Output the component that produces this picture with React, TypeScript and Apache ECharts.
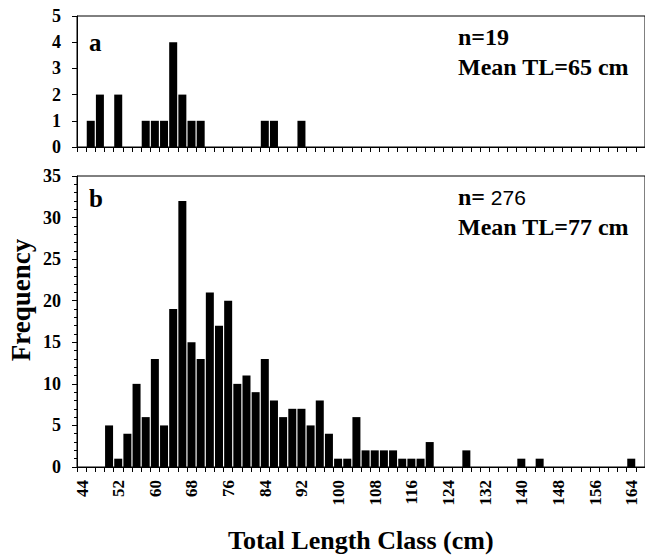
import React, { useEffect, useRef } from "react";
import * as echarts from "echarts";

// Panel a: bin start (cm) and frequency
const binsA = [46, 48, 52, 58, 60, 62, 64, 66, 68, 70, 84, 86, 92];
const countsA = [1, 2, 2, 1, 1, 1, 4, 2, 1, 1, 1, 1, 1];

// Panel b: bin start (cm) and frequency
const binsB = [50, 52, 54, 56, 58, 60, 62, 64, 66, 68, 70, 72, 74, 76, 78, 80, 82, 84, 86, 88, 90, 92, 94, 96, 98, 100, 102, 104, 106, 108, 110, 112, 114, 116, 118, 120, 128, 140, 144, 164];
const countsB = [5, 1, 4, 10, 6, 13, 5, 19, 32, 15, 13, 21, 17, 20, 10, 11, 9, 13, 8, 6, 7, 7, 5, 8, 4, 1, 1, 6, 2, 2, 2, 2, 1, 1, 1, 3, 2, 1, 1, 1];

const xTickLabels = [44, 52, 60, 68, 76, 84, 92, 100, 108, 116, 124, 132, 140, 148, 156, 164];
const yTicksA = [0, 1, 2, 3, 4, 5];
const yTicksB = [0, 5, 10, 15, 20, 25, 30, 35];

const BIN = 2;
const SERIF = "Liberation Serif";
const SANS = "Liberation Sans";

export default function App() {
  const ref = useRef<HTMLDivElement>(null);
  useEffect(() => {
    if (!ref.current) return;
    const chart = echarts.init(ref.current, null, { renderer: "svg" });
    const xAxisBase = (gridIndex: number, showLabels: boolean) => ({
      type: "value",
      gridIndex,
      min: 44,
      max: 168,
      interval: BIN,
      axisLine: { show: true, lineStyle: { color: "#000", width: 1 } },
      axisTick: { show: true, inside: false, length: 5, lineStyle: { color: "#000" } },
      splitLine: { show: false },
      axisLabel: {
        show: showLabels,
        rotate: 90,
        margin: 13,
        color: "#000",
        fontFamily: SERIF,
        fontWeight: "bold",
        fontSize: 17,
        verticalAlign: "top",
        lineHeight: 10,
        formatter: (v: number) => (xTickLabels.includes(v) ? String(v) : ""),
      },
    });
    const yLabel = {
      color: "#000",
      fontFamily: SERIF,
      fontWeight: "bold",
      fontSize: 18,
      margin: 16,
    };
    const txt = (text: string, left: number, top: number, size: number) => ({
      type: "text",
      left,
      top,
      style: { text, fontFamily: SERIF, fontWeight: "bold", fontSize: size, fill: "#000" },
    });
    chart.setOption({
      animation: false,
      backgroundColor: "#fff",
      grid: [
        { left: 77, top: 16, width: 572, height: 131, show: true, borderColor: "#000", borderWidth: 1, backgroundColor: "transparent" },
        { left: 77, top: 176, width: 572, height: 291, show: true, borderColor: "#000", borderWidth: 1, backgroundColor: "transparent" },
      ],
      xAxis: [xAxisBase(0, false), xAxisBase(1, true)],
      yAxis: [
        {
          type: "value",
          gridIndex: 0,
          min: yTicksA[0],
          max: yTicksA[yTicksA.length - 1],
          interval: 1,
          axisLine: { show: true, lineStyle: { color: "#000" } },
          axisTick: { show: true, length: 5, lineStyle: { color: "#000" } },
          splitLine: { show: false },
          axisLabel: yLabel,
        },
        {
          type: "value",
          gridIndex: 1,
          min: yTicksB[0],
          max: yTicksB[yTicksB.length - 1],
          interval: 5,
          axisLine: { show: true, lineStyle: { color: "#000" } },
          axisTick: { show: true, length: 5, lineStyle: { color: "#000" } },
          minorTick: { show: true, splitNumber: 5, length: 3, lineStyle: { color: "#000" } },
          splitLine: { show: false },
          axisLabel: yLabel,
        },
      ],
      series: [
        {
          type: "bar",
          xAxisIndex: 0,
          yAxisIndex: 0,
          barWidth: 8,
          itemStyle: { color: "#000" },
          data: binsA.map((b, i) => [b + BIN / 2, countsA[i]]),
        },
        {
          type: "bar",
          xAxisIndex: 1,
          yAxisIndex: 1,
          barWidth: 8,
          itemStyle: { color: "#000" },
          data: binsB.map((b, i) => [b + BIN / 2, countsB[i]]),
        },
      ],
      graphic: [
        txt("a", 89, 30, 25),
        txt("b", 89, 186, 25),
        txt("n=19", 458, 25, 24),
        txt("Mean TL=65 cm", 458, 55, 24),
        {
          type: "text",
          left: 458,
          top: 185,
          style: {
            text: "{b|n=}{s| 276}",
            rich: {
              b: { fontFamily: SERIF, fontWeight: "bold", fontSize: 24, fill: "#000" },
              s: { fontFamily: SANS, fontWeight: "normal", fontSize: 21, fill: "#000" },
            },
          },
        },
        txt("Mean TL=77 cm", 458, 215, 24),
        txt("Total Length Class (cm)", 228, 527, 26),
        {
          type: "text",
          x: 21,
          y: 300,
          rotation: Math.PI / 2,
          style: {
            text: "Frequency",
            fontFamily: SERIF,
            fontWeight: "bold",
            fontSize: 27,
            fill: "#000",
            align: "center",
            verticalAlign: "middle",
          },
        },
      ],
    });
    return () => chart.dispose();
  }, []);
  return (
    <div
      ref={ref}
      style={{ position: "absolute", left: 0, top: 0, width: 645, height: 559 }}
    />
  );
}
